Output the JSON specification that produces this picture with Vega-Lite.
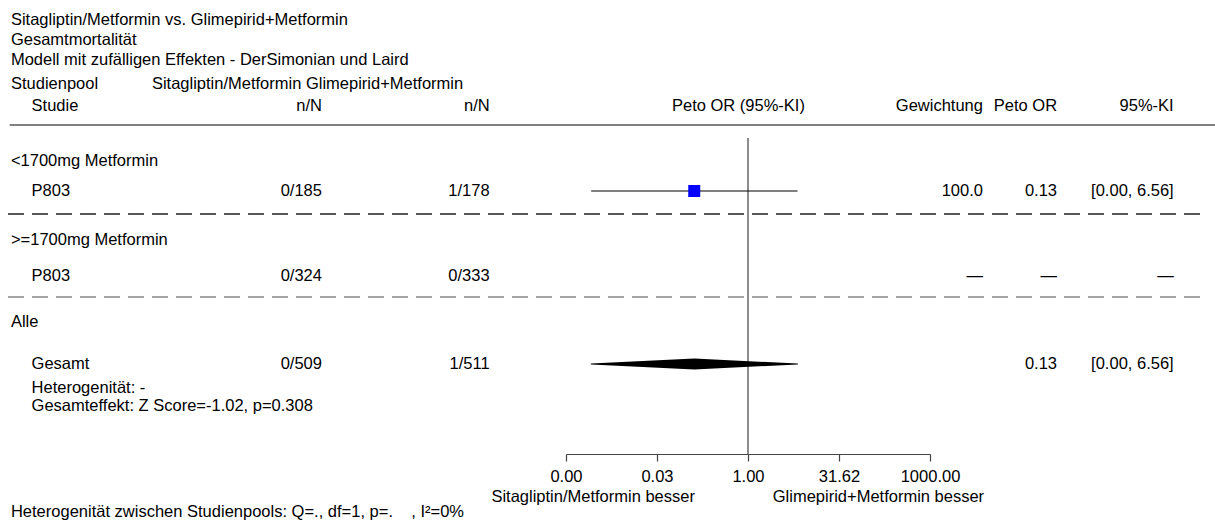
{
  "$schema": "https://vega.github.io/schema/vega-lite/v6.json",
  "width": 1215,
  "height": 522,
  "autosize": "none",
  "padding": 0,
  "background": "white",
  "config": {
    "view": {"stroke": null},
    "font": "Liberation Sans",
    "text": {"fontSize": 16.5, "baseline": "middle", "color": "#000000"}
  },
  "datasets": {
    "links": [
      {"zeile": 0.98, "text": "Sitagliptin/Metformin vs. Glimepirid+Metformin"},
      {"zeile": 1.98, "text": "Gesamtmortalität"},
      {"zeile": 2.98, "text": "Modell mit zufälligen Effekten - DerSimonian und Laird"},
      {"zeile": 4.22, "text": "Studienpool"},
      {"zeile": 8.05, "text": "<1700mg Metformin"},
      {"zeile": 11.98, "text": ">=1700mg Metformin"},
      {"zeile": 16.1, "text": "Alle"},
      {"zeile": 25.62, "text": "Heterogenität zwischen Studienpools: Q=., df=1, p=.\u00a0\u00a0\u00a0\u00a0, I²=0%"}
    ],
    "tabelle": [
      {"zeile": 5.28, "studie": "Studie", "sita": "n/N", "glim": "n/N", "gewichtung": "Gewichtung", "or_text": "Peto OR", "ki_text": "95%-KI"},
      {"zeile": 9.55, "pool": "<1700mg Metformin", "studie": "P803", "sita": "0/185", "glim": "1/178", "gewichtung": "100.0", "or": 0.13, "lo": 0.0026, "hi": 6.56, "or_text": "0.13", "ki_text": "[0.00, 6.56]"},
      {"zeile": 13.8, "pool": ">=1700mg Metformin", "studie": "P803", "sita": "0/324", "glim": "0/333", "gewichtung": "—", "or_text": "—", "ki_text": "—"},
      {"zeile": 18.2, "pool": "Alle", "studie": "Gesamt", "sita": "0/509", "glim": "1/511", "or": 0.13, "lo": 0.0026, "hi": 6.56, "or_text": "0.13", "ki_text": "[0.00, 6.56]"},
      {"zeile": 19.4, "studie": "Heterogenität: -"},
      {"zeile": 20.3, "studie": "Gesamteffekt: Z Score=-1.02, p=0.308"}
    ],
    "trenner": [
      {"zeile": 6.25, "art": "Kopf"},
      {"zeile": 10.7, "art": "Pool"},
      {"zeile": 14.85, "art": "Gesamt"}
    ]
  },
  "layer": [
    {
      "layer": [
        {
          "data": {"name": "links"},
          "mark": {"type": "text", "align": "left"},
          "encoding": {
            "x": {"datum": 0.9, "type": "quantitative", "scale": {"domain": [0, 100], "nice": false, "zero": false}, "axis": null},
            "y": {"field": "zeile", "type": "quantitative", "scale": {"domain": [0, 26.1], "reverse": true, "nice": false, "zero": false}, "axis": null},
            "text": {"field": "text"}
          }
        },
        {
          "data": {"values": [{"zeile": 4.22, "text": "Sitagliptin/Metformin Glimepirid+Metformin"}]},
          "mark": {"type": "text", "align": "left"},
          "encoding": {
            "x": {"datum": 12.5, "type": "quantitative", "scale": {"domain": [0, 100], "nice": false, "zero": false}, "axis": null},
            "y": {"field": "zeile", "type": "quantitative", "scale": {"domain": [0, 26.1], "reverse": true, "nice": false, "zero": false}, "axis": null},
            "text": {"field": "text"}
          }
        },
        {
          "data": {"name": "tabelle"},
          "transform": [{"filter": "isValid(datum.studie)"}],
          "mark": {"type": "text", "align": "left"},
          "encoding": {
            "x": {"datum": 2.6, "type": "quantitative", "scale": {"domain": [0, 100], "nice": false, "zero": false}, "axis": null},
            "y": {"field": "zeile", "type": "quantitative", "scale": {"domain": [0, 26.1], "reverse": true, "nice": false, "zero": false}, "axis": null},
            "text": {"field": "studie"}
          }
        },
        {
          "data": {"name": "tabelle"},
          "transform": [{"filter": "isValid(datum.sita)"}],
          "mark": {"type": "text", "align": "right"},
          "encoding": {
            "x": {"datum": 26.5, "type": "quantitative", "scale": {"domain": [0, 100], "nice": false, "zero": false}, "axis": null},
            "y": {"field": "zeile", "type": "quantitative", "scale": {"domain": [0, 26.1], "reverse": true, "nice": false, "zero": false}, "axis": null},
            "text": {"field": "sita"}
          }
        },
        {
          "data": {"name": "tabelle"},
          "transform": [{"filter": "isValid(datum.glim)"}],
          "mark": {"type": "text", "align": "right"},
          "encoding": {
            "x": {"datum": 40.3, "type": "quantitative", "scale": {"domain": [0, 100], "nice": false, "zero": false}, "axis": null},
            "y": {"field": "zeile", "type": "quantitative", "scale": {"domain": [0, 26.1], "reverse": true, "nice": false, "zero": false}, "axis": null},
            "text": {"field": "glim"}
          }
        },
        {
          "data": {"values": [{"zeile": 5.28, "text": "Peto OR (95%-KI)"}]},
          "mark": {"type": "text", "align": "right"},
          "encoding": {
            "x": {"datum": 66.25, "type": "quantitative", "scale": {"domain": [0, 100], "nice": false, "zero": false}, "axis": null},
            "y": {"field": "zeile", "type": "quantitative", "scale": {"domain": [0, 26.1], "reverse": true, "nice": false, "zero": false}, "axis": null},
            "text": {"field": "text"}
          }
        },
        {
          "data": {"name": "tabelle"},
          "transform": [{"filter": "isValid(datum.gewichtung)"}],
          "mark": {"type": "text", "align": "right"},
          "encoding": {
            "x": {"datum": 80.9, "type": "quantitative", "scale": {"domain": [0, 100], "nice": false, "zero": false}, "axis": null},
            "y": {"field": "zeile", "type": "quantitative", "scale": {"domain": [0, 26.1], "reverse": true, "nice": false, "zero": false}, "axis": null},
            "text": {"field": "gewichtung"}
          }
        },
        {
          "data": {"name": "tabelle"},
          "transform": [{"filter": "isValid(datum.or_text)"}],
          "mark": {"type": "text", "align": "right"},
          "encoding": {
            "x": {"datum": 87.0, "type": "quantitative", "scale": {"domain": [0, 100], "nice": false, "zero": false}, "axis": null},
            "y": {"field": "zeile", "type": "quantitative", "scale": {"domain": [0, 26.1], "reverse": true, "nice": false, "zero": false}, "axis": null},
            "text": {"field": "or_text"}
          }
        },
        {
          "data": {"name": "tabelle"},
          "transform": [{"filter": "isValid(datum.ki_text)"}],
          "mark": {"type": "text", "align": "right"},
          "encoding": {
            "x": {"datum": 96.6, "type": "quantitative", "scale": {"domain": [0, 100], "nice": false, "zero": false}, "axis": null},
            "y": {"field": "zeile", "type": "quantitative", "scale": {"domain": [0, 26.1], "reverse": true, "nice": false, "zero": false}, "axis": null},
            "text": {"field": "ki_text"}
          }
        },
        {
          "data": {"values": [{"zeile": 24.85, "text": "Sitagliptin/Metformin besser"}]},
          "mark": {"type": "text", "align": "right"},
          "encoding": {
            "x": {"datum": 57.2, "type": "quantitative", "scale": {"domain": [0, 100], "nice": false, "zero": false}, "axis": null},
            "y": {"field": "zeile", "type": "quantitative", "scale": {"domain": [0, 26.1], "reverse": true, "nice": false, "zero": false}, "axis": null},
            "text": {"field": "text"}
          }
        },
        {
          "data": {"values": [{"zeile": 24.85, "text": "Glimepirid+Metformin besser"}]},
          "mark": {"type": "text", "align": "left"},
          "encoding": {
            "x": {"datum": 63.6, "type": "quantitative", "scale": {"domain": [0, 100], "nice": false, "zero": false}, "axis": null},
            "y": {"field": "zeile", "type": "quantitative", "scale": {"domain": [0, 26.1], "reverse": true, "nice": false, "zero": false}, "axis": null},
            "text": {"field": "text"}
          }
        },
        {
          "data": {"name": "trenner"},
          "transform": [{"filter": "datum.art === 'Kopf'"}],
          "mark": {"type": "rule", "color": "#808080", "strokeWidth": 2},
          "encoding": {
            "x": {"datum": 0.8, "type": "quantitative", "scale": {"domain": [0, 100], "nice": false, "zero": false}, "axis": null},
            "x2": {"datum": 100},
            "y": {"field": "zeile", "type": "quantitative", "scale": {"domain": [0, 26.1], "reverse": true, "nice": false, "zero": false}, "axis": null}
          }
        },
        {
          "data": {"name": "trenner"},
          "transform": [{"filter": "datum.art !== 'Kopf'"}],
          "mark": {"type": "rule", "strokeWidth": 1.5, "strokeDash": [16, 8]},
          "encoding": {
            "x": {"datum": 0.66, "type": "quantitative", "scale": {"domain": [0, 100], "nice": false, "zero": false}, "axis": null},
            "x2": {"datum": 99.34},
            "y": {"field": "zeile", "type": "quantitative", "scale": {"domain": [0, 26.1], "reverse": true, "nice": false, "zero": false}, "axis": null},
            "color": {"field": "art", "type": "nominal", "scale": {"domain": ["Pool", "Gesamt"], "range": ["#222222", "#888888"]}, "legend": null}
          }
        }
      ]
    },
    {
      "layer": [
        {
          "data": {"values": [{"or": 1}]},
          "mark": {"type": "rule", "color": "#666666", "strokeWidth": 1.5},
          "encoding": {
            "x": {
              "field": "or",
              "type": "quantitative",
              "scale": {"type": "log", "domain": [0.001, 1000], "range": [566, 930], "nice": false},
              "axis": {
                "orient": "bottom",
                "offset": -68,
                "values": [0.001, 0.031623, 1, 31.623, 1000],
                "format": ".2f",
                "title": null,
                "grid": false,
                "labelFont": "Liberation Sans",
                "labelFontSize": 16.5,
                "labelColor": "#000000",
                "domainColor": "#444444",
                "tickColor": "#444444",
                "domainWidth": 1.2,
                "tickWidth": 1.2,
                "tickSize": 7,
                "labelPadding": 7,
                "labelFlush": false,
                "labelOverlap": false
              }
            },
            "y": {"datum": 6.9, "type": "quantitative", "scale": {"domain": [0, 26.1], "reverse": true, "nice": false, "zero": false}, "axis": null},
            "y2": {"datum": 22.7}
          }
        },
        {
          "data": {"name": "tabelle"},
          "transform": [{"filter": "isValid(datum.or) && datum.studie !== 'Gesamt'"}],
          "mark": {"type": "rule", "color": "#000000", "strokeWidth": 1.2},
          "encoding": {
            "x": {"field": "lo", "type": "quantitative", "title": null},
            "x2": {"field": "hi"},
            "y": {"field": "zeile", "type": "quantitative", "scale": {"domain": [0, 26.1], "reverse": true, "nice": false, "zero": false}, "axis": null}
          }
        },
        {
          "data": {"name": "tabelle"},
          "transform": [{"filter": "isValid(datum.or) && datum.studie !== 'Gesamt'"}],
          "mark": {"type": "point", "shape": "square", "filled": true, "color": "#0000FF", "opacity": 1, "size": 144},
          "encoding": {
            "x": {"field": "or", "type": "quantitative", "title": null},
            "y": {"field": "zeile", "type": "quantitative", "scale": {"domain": [0, 26.1], "reverse": true, "nice": false, "zero": false}, "axis": null}
          }
        },
        {
          "data": {"name": "tabelle"},
          "transform": [
            {"filter": "datum.studie === 'Gesamt'"},
            {"fold": ["lo", "or", "hi"], "as": ["punkt", "wert"]}
          ],
          "mark": {"type": "trail", "color": "#000000"},
          "encoding": {
            "x": {"field": "wert", "type": "quantitative", "title": null},
            "y": {"field": "zeile", "type": "quantitative", "scale": {"domain": [0, 26.1], "reverse": true, "nice": false, "zero": false}, "axis": null},
            "size": {"condition": {"test": "datum.punkt === 'or'", "value": 11}, "value": 0}
          }
        }
      ]
    }
  ],
  "resolve": {"scale": {"x": "independent"}}
}
